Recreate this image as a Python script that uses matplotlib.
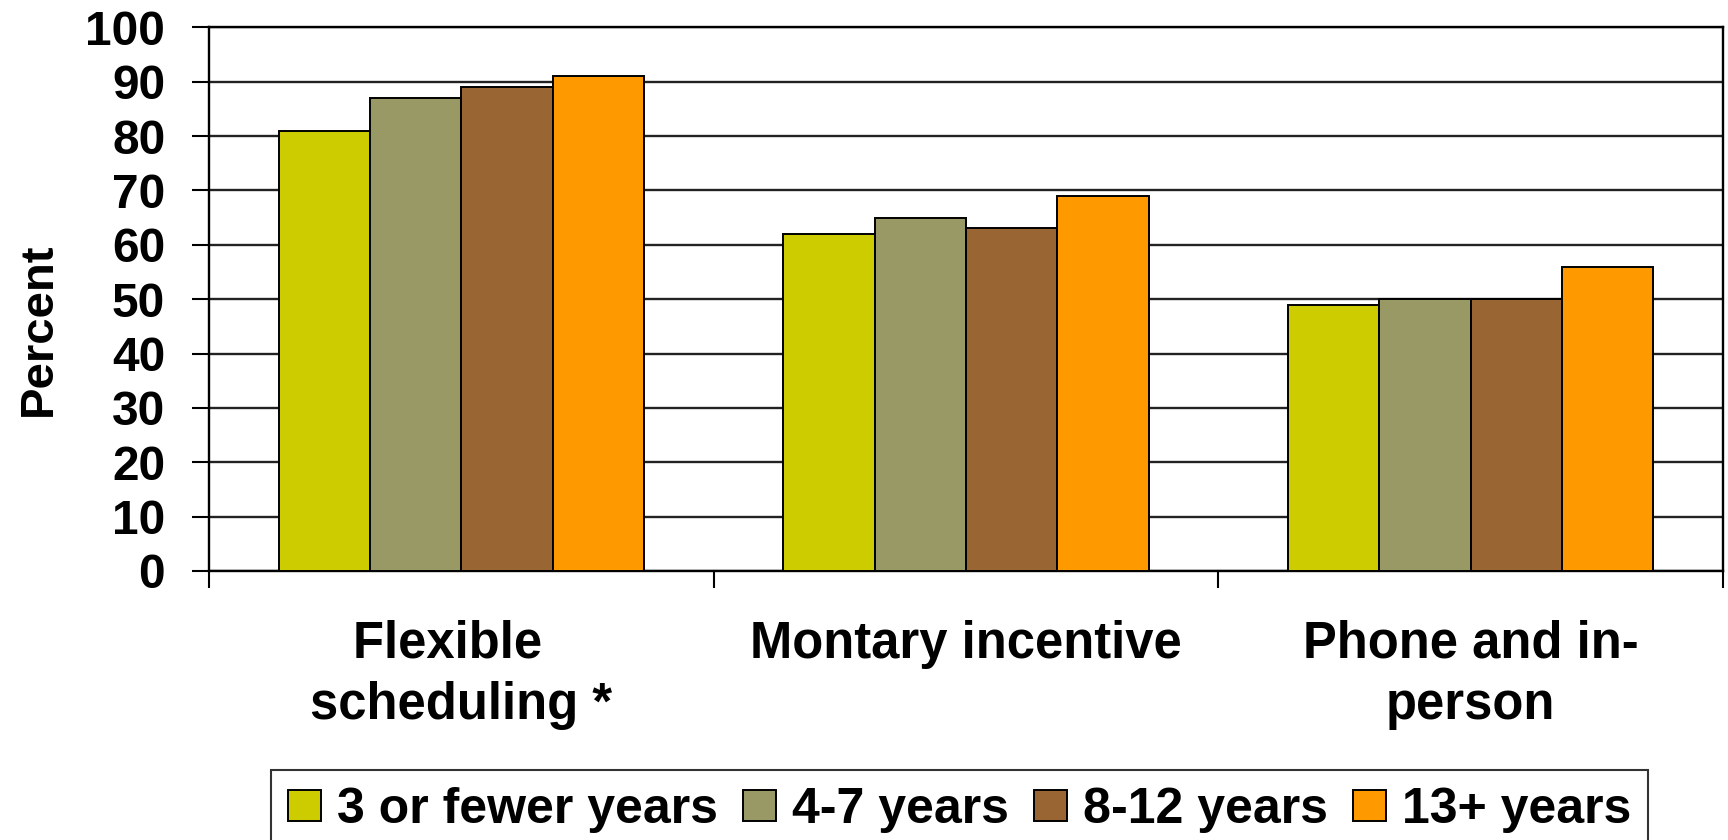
import numpy as np
import matplotlib
matplotlib.use('Agg')
import matplotlib.pyplot as plt

## Data
categories = ['Flexible  \nscheduling *', 'Montary incentive', 'Phone and in-\nperson']
series_names = ['3 or fewer years', '4-7 years', '8-12 years', '13+ years']
few_years = [81, 62, 49]
four_seven = [87, 65, 50]
eight_twelve = [89, 63, 50]
thirteen_plus = [91, 69, 56]
colors = ['#CCCC00', '#999966', '#996633', '#FF9900']
yticks = [0, 10, 20, 30, 40, 50, 60, 70, 80, 90, 100]

plt.rcParams['font.family'] = ['Liberation Sans', 'DejaVu Sans']
plt.rcParams['font.weight'] = 'bold'

fig = plt.figure(figsize=(17.28, 8.4), dpi=100)
ax = fig.add_axes([209/1728, 1-571/840, (1723-209)/1728, (571-27.3)/840])

x = np.arange(len(categories))
width = 0.181
all_series = [few_years, four_seven, eight_twelve, thirteen_plus]
for i, vals in enumerate(all_series):
    ax.bar(x + (i-1.5)*width, vals, width, color=colors[i], edgecolor='black',
           linewidth=1.4, label=series_names[i], zorder=3)

ax.set_xlim(-0.5, 2.5)
ax.set_ylim(0, 100)
ax.set_yticks(yticks)
ax.set_yticklabels([str(t) for t in yticks], fontsize=34.5, fontweight='bold')
ax.yaxis.grid(True, color='#222222', linewidth=1.7, zorder=0)
ax.set_axisbelow(True)

ax.set_xticks(x)
ax.set_xticklabels(categories, fontsize=36.5, fontweight='bold', linespacing=1.33)
ax.tick_params(axis='x', which='major', length=0, pad=35)
ax.set_xticks([-0.5, 0.5, 1.5, 2.5], minor=True)
ax.tick_params(axis='x', which='minor', length=12, width=1.5, direction='out')
ax.tick_params(axis='y', length=12, width=1.5, direction='out', pad=19.5)

for s in ax.spines.values():
    s.set_linewidth(1.7)
    s.set_color('black')

ax.set_ylabel('Percent', fontsize=34, fontweight='bold')
ax.yaxis.set_label_coords(-0.098, 0.445)

leg = fig.legend(loc='upper left', bbox_to_anchor=(271/1728, 1-770/840), ncol=4,
                 fontsize=36, frameon=True, fancybox=False, edgecolor='black',
                 handlelength=0.66, handleheight=0.58, handletextpad=0.32,
                 columnspacing=0.5, borderpad=0.34, borderaxespad=0)
leg.get_frame().set_linewidth(1.5)
for t in leg.get_texts():
    t.set_fontweight('bold')

fig.savefig('out.png', dpi=100)
